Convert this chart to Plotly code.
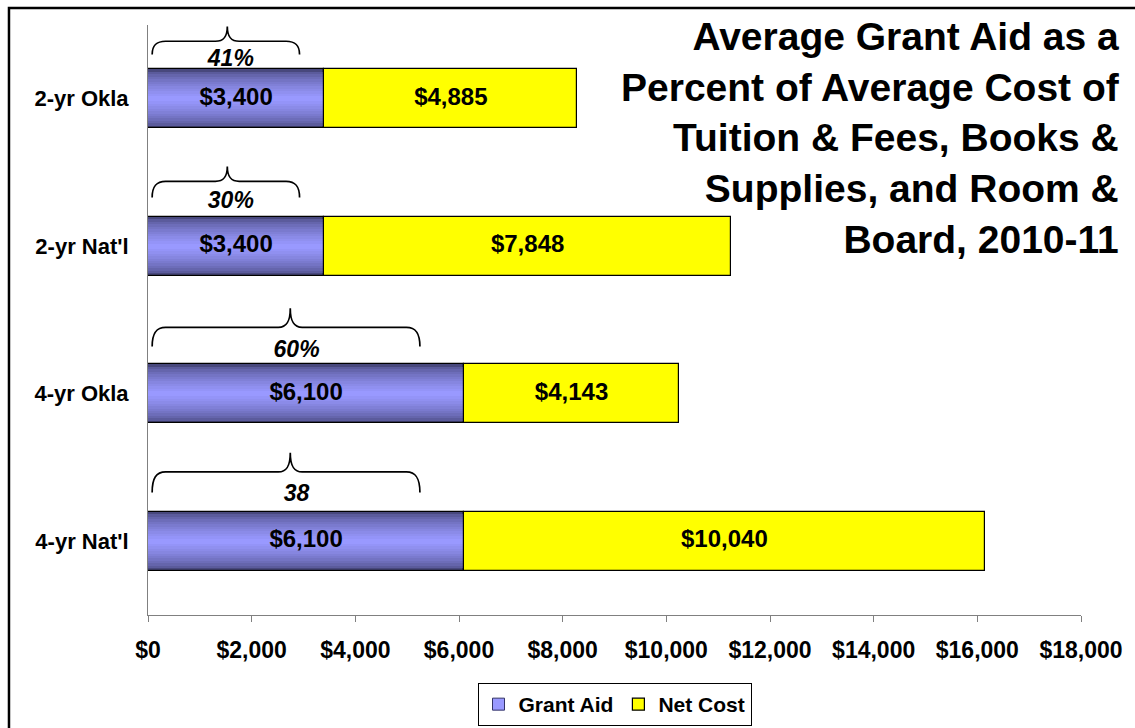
import plotly.graph_objects as go

categories = ["2-yr Okla", "2-yr Nat'l", "4-yr Okla", "4-yr Nat'l"]
grant_aid = [3400, 3400, 6100, 6100]
net_cost = [4885, 7848, 4143, 10040]
pct_labels = ["41%", "30%", "60%", "38"]
x_ticks = [0, 2000, 4000, 6000, 8000, 10000, 12000, 14000, 16000, 18000]
title_text = ("Average Grant Aid as a<br>Percent of Average Cost of<br>"
              "Tuition &amp; Fees, Books &amp;<br>Supplies, and Room &amp;<br>Board, 2010-11")

FONT = "Liberation Sans, Arial, sans-serif"
ypos = list(range(len(categories)))
BAR_W = 0.4

fig = go.Figure()

# legend-only entry for Grant Aid
fig.add_trace(go.Bar(x=[None], y=[None], orientation="h", name="Grant Aid",
                     marker=dict(color="#9999FF", line=dict(color="#333366", width=1))))

# gradient grant aid bars (layered, narrower = lighter)
N = 12
dark = (72, 72, 125)
light = (153, 153, 255)
for k in range(N):
    t = (k / (N - 1)) ** 0.6
    c = tuple(int(round(dark[i] + (light[i] - dark[i]) * t)) for i in range(3))
    w = BAR_W * (1 - k / N)
    fig.add_trace(go.Bar(
        x=grant_aid, y=ypos, orientation="h", width=w, showlegend=False,
        marker=dict(color="rgb(%d,%d,%d)" % c,
                    line=dict(color="black", width=1.2 if k == 0 else 0)),
        hoverinfo="skip"))

fig.add_trace(go.Bar(
    x=net_cost, y=ypos, base=grant_aid, orientation="h", width=BAR_W, name="Net Cost",
    marker=dict(color="#FFFF00", line=dict(color="black", width=1.2)), hoverinfo="skip"))

lab_font = dict(family=FONT, size=24, color="black", weight="bold")
fig.add_trace(go.Scatter(
    x=[g / 2 for g in grant_aid], y=ypos, mode="text",
    text=["${:,}".format(g) for g in grant_aid], textfont=lab_font,
    showlegend=False, hoverinfo="skip"))
fig.add_trace(go.Scatter(
    x=[g + n / 2 for g, n in zip(grant_aid, net_cost)], y=ypos, mode="text",
    text=["${:,}".format(n) for n in net_cost], textfont=lab_font,
    showlegend=False, hoverinfo="skip"))

# per-row vertical offsets (category units): label, brace end, brace middle, brace tip
lab_off = [-0.26, -0.30, -0.29, -0.31]
offs = [(-0.30, -0.39, -0.49), (-0.33, -0.44, -0.54), (-0.32, -0.45, -0.58), (-0.33, -0.47, -0.60)]

fig.add_trace(go.Scatter(
    x=[g * 0.47 for g in grant_aid], y=[p + o for p, o in zip(ypos, lab_off)], mode="text",
    text=pct_labels, textfont=dict(family=FONT, size=23, color="black", weight="bold", style="italic"),
    showlegend=False, hoverinfo="skip"))

# braces above the grant aid segments
shapes = []
for i, g in enumerate(grant_aid):
    x0, x1, xm = 80, g * 0.86, g * 0.45
    yE, yH, yT = [i + o for o in offs[i]]
    dx = 260
    dt = 230
    path = (f"M {x0},{yE} C {x0},{yH + (yE - yH) * 0.3} {x0 + dx * 0.3},{yH} {x0 + dx},{yH} "
            f"L {xm - dt},{yH} C {xm - dt * 0.3},{yH} {xm},{yH - (yH - yT) * 0.3} {xm},{yT} "
            f"C {xm},{yH - (yH - yT) * 0.3} {xm + dt * 0.3},{yH} {xm + dt},{yH} "
            f"L {x1 - dx},{yH} C {x1 - dx * 0.3},{yH} {x1},{yH + (yE - yH) * 0.3} {x1},{yE}")
    shapes.append(dict(type="path", path=path, xref="x", yref="y",
                       line=dict(color="black", width=1.7)))

# outer chart border
shapes.append(dict(type="rect", xref="paper", yref="paper", x0=-0.149, x1=1.2, y0=-0.4, y1=1.029,
                   line=dict(color="black", width=2.5), fillcolor="rgba(0,0,0,0)"))

fig.update_layout(
    width=1135, height=728,
    margin=dict(l=148, r=54, t=25, b=113),
    paper_bgcolor="white", plot_bgcolor="white",
    barmode="overlay", bargap=0,
    font=dict(family=FONT, size=22, color="black"),
    shapes=shapes,
    showlegend=True,
    legend=dict(orientation="h", x=0.5, xanchor="center", xref="paper",
                y=(728 - 683) / 728, yanchor="top", yref="container",
                bordercolor="black", borderwidth=1, bgcolor="white",
                font=dict(family=FONT, size=21, color="black", weight="bold"),
                itemwidth=30, tracegroupgap=0),
    annotations=[dict(text=title_text, xref="paper", yref="paper", x=1.044, y=1.02,
                      xanchor="right", yanchor="top", align="right", showarrow=False,
                      font=dict(family=FONT, size=39, color="black", weight="bold"))],
)

fig.update_xaxes(range=[0, 18000], tickvals=x_ticks,
                 ticktext=["${:,}".format(v) for v in x_ticks],
                 showgrid=False, zeroline=False, showline=True, linecolor="#808080", linewidth=1,
                 ticks="outside", ticklen=6, tickcolor="#808080",
                 tickfont=dict(family=FONT, size=23, color="black", weight="bold"),
                 ticklabelstandoff=8, automargin=False)
fig.update_yaxes(range=[3.5, -0.5], tickvals=ypos, ticktext=categories,
                 showgrid=False, zeroline=False, showline=True, linecolor="#808080", linewidth=1,
                 ticks="", tickfont=dict(family=FONT, size=22, color="black", weight="bold"),
                 ticklabelstandoff=14, automargin=False)

fig.write_html("out.html", config={"displayModeBar": False},
               post_script="document.body.style.margin='0';")
